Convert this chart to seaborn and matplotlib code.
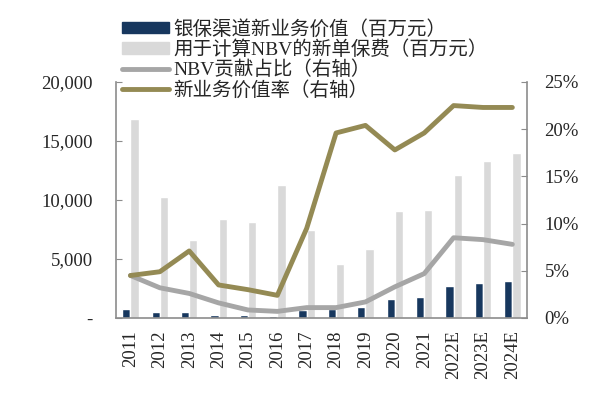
import matplotlib
matplotlib.use("Agg")
import matplotlib.pyplot as plt
import matplotlib.ticker as mticker
from matplotlib.lines import Line2D
from matplotlib.patches import Patch
import numpy as np
import pandas as pd
import seaborn as sns

years = ["2011", "2012", "2013", "2014", "2015", "2016", "2017",
         "2018", "2019", "2020", "2021", "2022E", "2023E", "2024E"]
nbv_bank = [740, 510, 480, 280, 230, 170, 650, 760, 960, 1610, 1780, 2740, 2990, 3140]
new_prem = [16840, 10250, 6610, 8390, 8140, 11270, 7460, 4580, 5820, 9070, 9120, 12090, 13300, 13980]
nbv_share = [4.5, 3.2, 2.6, 1.6, 0.85, 0.7, 1.1, 1.1, 1.7, 3.3, 4.7, 8.5, 8.3, 7.8]
nbv_margin = [4.5, 4.9, 7.1, 3.5, 3.0, 2.4, 9.5, 19.6, 20.4, 17.8, 19.6, 22.5, 22.3, 22.3]

labels = ["银保渠道新业务价值（百万元）", "用于计算NBV的新单保费（百万元）",
          "NBV贡献占比（右轴）", "新业务价值率（右轴）"]

navy = "#17375E"
light = "#D9D9D9"
gray = "#A6A6A6"
olive = "#948A54"
spine_c = "#8C8C8C"

sns.set_style("white")
plt.rcParams["font.family"] = ["Liberation Serif", "Noto Sans CJK SC"]

df = pd.DataFrame({"year": years * 2,
                   "value": nbv_bank + new_prem,
                   "series": [labels[0]] * len(years) + [labels[1]] * len(years)})

fig = plt.figure(figsize=(6.03, 3.96), dpi=100)
ax = fig.add_axes([0.192, 0.197, 0.682, 0.596])
sns.barplot(data=df, x="year", y="value", hue="series", palette=[navy, light],
            width=0.56, ax=ax, legend=False, saturation=1)
ax.set_ylim(0, 20000)
ax.set_xlim(-0.5, len(years) - 0.5)
ax.yaxis.set_major_locator(mticker.MultipleLocator(5000))
ax.yaxis.set_major_formatter(mticker.FuncFormatter(lambda v, p: "-" if v == 0 else f"{v:,.0f}"))
ax.set_xlabel("")
ax.set_ylabel("")

ax2 = ax.twinx()
x = np.arange(len(years))
sns.lineplot(x=x, y=nbv_share, ax=ax2, color=gray, lw=3.5, solid_capstyle="round")
sns.lineplot(x=x, y=nbv_margin, ax=ax2, color=olive, lw=3.5, solid_capstyle="round")
ax2.set_ylim(0, 25)
ax2.yaxis.set_major_locator(mticker.MultipleLocator(5))
ax2.yaxis.set_major_formatter(mticker.FuncFormatter(lambda v, p: f"{v:.0f}%"))
ax2.set_xlim(-0.5, len(years) - 0.5)

for a in (ax, ax2):
    a.spines["top"].set_visible(False)
    for s in ("left", "right", "bottom"):
        a.spines[s].set_color(spine_c)
        a.spines[s].set_linewidth(1.2)
    a.grid(False)

ax.spines["right"].set_visible(False)
ax2.spines["left"].set_visible(False)
ax2.spines["bottom"].set_visible(False)

ax.set_xticks(x)
ax.set_xticklabels(years, rotation=90)
ax.set_xticks(np.arange(-0.5, len(years)), minor=True)
ax.tick_params(axis="x", which="major", length=0, pad=9, labelsize=13.5)
ax.tick_params(axis="x", which="minor", direction="in", length=4, color=spine_c)
ax.tick_params(axis="y", direction="in", length=4, color=spine_c, pad=16.5, labelsize=13.5, left=True)
ax2.tick_params(axis="y", direction="in", length=4, color=spine_c, pad=12.5, labelsize=13.5, right=True)

handles = [Patch(color=navy), Patch(color=light),
           Line2D([], [], color=gray, lw=3.5, solid_capstyle="round"),
           Line2D([], [], color=olive, lw=3.5, solid_capstyle="round")]
fig.legend(handles, labels, loc="upper left", bbox_to_anchor=(0.202, 0.95),
           frameon=False, fontsize=14, handlelength=2.45, handleheight=0.5,
           handletextpad=0.2, labelspacing=0.08, borderpad=0, borderaxespad=0)

fig.savefig("out.png", dpi=100)
